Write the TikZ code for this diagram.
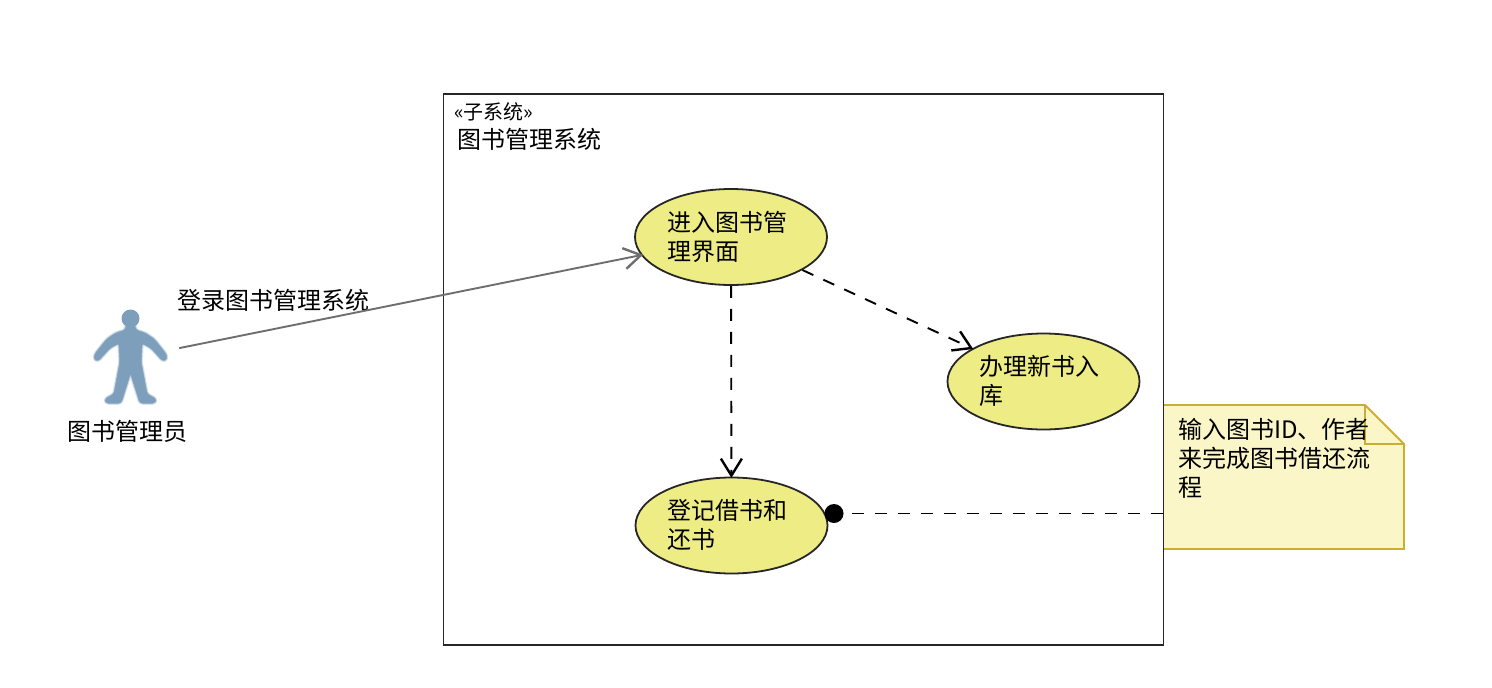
\documentclass[tikz,border=0pt]{standalone}
\usepackage{fontspec}
\setmainfont{Noto Sans CJK SC}
\usetikzlibrary{arrows.meta,shapes.geometric}
\definecolor{usefill}{HTML}{EEEC85}
\definecolor{notefill}{HTML}{FBF6C8}
\definecolor{noteline}{HTML}{C9AE35}
\definecolor{actorblue}{HTML}{7D9FBC}
\definecolor{assocgrey}{HTML}{6E6E6E}
\pgfdeclarearrow{
  name=OpenVee,
  setup code={
    \pgfarrowssettipend{1pt}
    \pgfarrowssetlineend{-1pt}
    \pgfarrowssetvisualbackend{-1pt}
    \pgfarrowssetbackend{-17pt}
    \pgfarrowshullpoint{1pt}{0pt}
    \pgfarrowshullpoint{-17pt}{11pt}
    \pgfarrowshullpoint{-17pt}{-11pt}
  },
  drawing code={
    \pgfsetdash{}{0pt}
    \pgfsetlinewidth{2.4pt}
    \pgfsetmiterjoin
    \pgfpathmoveto{\pgfpoint{-17pt}{10.5pt}}
    \pgfpathlineto{\pgfpointorigin}
    \pgfpathlineto{\pgfpoint{-17pt}{-10.5pt}}
    \pgfusepathqstroke
  }
}
\newcommand{\bodytext}{\fontsize{24}{29}\selectfont}
\tikzset{
  usecase/.style={ellipse,draw=black!85,fill=usefill,line width=1.8pt,minimum width=192pt,minimum height=96pt,inner sep=0pt},
  label text/.style={inner sep=0pt,font=\bodytext,align=left,anchor=west},
  dep/.style={dash pattern=on 12pt off 11pt,line width=1.9pt,black,-OpenVee},
  assoc/.style={line width=1.9pt,assocgrey,-OpenVee}
}
\begin{document}
\begin{tikzpicture}[x=1pt,y=-1pt]
\useasboundingbox (0,0) rectangle (1492,688);
% note
\fill[notefill] (1164,405) -- (1365,405) -- (1404,444) -- (1404,549) -- (1164,549) -- cycle;
\draw[noteline,line width=1.8pt,line join=miter] (1164,405) -- (1365,405) -- (1404,444) -- (1404,549) -- (1164,549);
\draw[noteline,line width=1.8pt] (1365,405) -- (1365,444) -- (1404,444);
\node[inner sep=0pt,minimum width=240pt,minimum height=144pt] (note) at (1284,477) {};
% system frame
\node[draw=black!85,line width=1.9pt,minimum width=720pt,minimum height=551pt,inner sep=0pt] (system) at (803.5,369.5) {};
\node[inner sep=0pt,anchor=west,font=\fontsize{20}{22}\selectfont] (stereo) at (454,112) {«子系统»};
\node[label text] (systitle) at (457,139) {图书管理系统};
% actor
\foreach \w/\o in {3.5/.3,1.5/.6,0.1/1}{
  \path[fill=actorblue,draw=actorblue,opacity=\o,line width=\w pt,line join=round,rounded corners=2.5pt]
    (126,325) -- (125.5,330) -- (116,333) -- (107,339) -- (95,354) -- (94,359) -- (98,361)
    -- (110,348) -- (119,343) -- (120,362) -- (114,394) -- (105,399) -- (106,403) -- (121,403)
    -- (130.5,373)
    -- (140,403) -- (155,403) -- (156,399) -- (147,394) -- (141,362) -- (142,343)
    -- (151,348) -- (163,361) -- (167,359) -- (166,354) -- (154,339) -- (145,333) -- (135.5,330) -- (135,325) -- cycle;
}
\fill[actorblue] (130.5,318.5) circle[radius=9];
\node[minimum width=98pt,minimum height=100pt,inner sep=0pt] (actor) at (130,358) {};
\node[label text] (actorlabel) at (67,431) {图书管理员};
% use cases
\node[usecase] (u1) at (731,237) {};
\node[usecase] (u2) at (1043.5,381.5) {};
\node[usecase] (u3) at (731.5,525.5) {};
\node[label text] at (667,237) {进入图书管\\理界面};
\node[label text] at (979,381) {办理新书入\\库};
\node[label text] at (667,525) {登记借书和\\还书};
\node[label text] at (1178,458) {输入图书ID、作者\\来完成图书借还流\\程};
\node[label text] (assoclabel) at (177,300) {登录图书管理系统};
% connectors
\draw[assoc,shorten >=-1pt] (actor) -- (u1);
\draw[dep] (u1) -- (u2);
\draw[dep] (u1) -- (u3);
\node[circle,fill=black,minimum size=19pt,inner sep=0pt] (dot) at (834,513.5) {};
\draw[dash pattern=on 12pt off 11pt,dash phase=15pt,line width=1.9pt] (dot) -- (note.west |- dot);
\end{tikzpicture}
\end{document}
